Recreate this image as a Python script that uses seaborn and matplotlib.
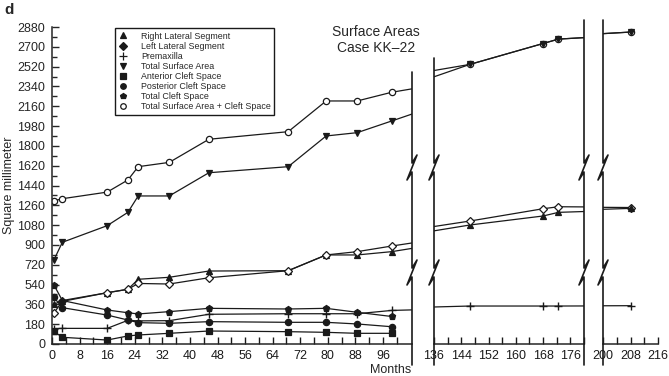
import numpy as np
import pandas as pd
import seaborn as sns
import matplotlib.pyplot as plt
from matplotlib.lines import Line2D
from matplotlib.ticker import FixedLocator, MultipleLocator

# values (months, square millimeter)
months = [0.5, 3, 16, 22, 25, 34, 45.5, 68.5, 79.5, 88.5, 98.5, 146.5, 168, 172.5, 208]
right_lat = [360, 395, 466, 497, 588, 606, 663, 666, 809, 809, 839, 1081, 1163, 1196, 1232]
left_lat = [280, 387, 466, 497, 550, 545, 602, 666, 809, 839, 890, 1117, 1229, 1247, 1240]
premax = [140, 142, 142, 215, 210, 212, 270, 275, 275, 275, 305, 345, 345, 345, 348]
total_surf = [760, 924, 1075, 1196, 1345, 1345, 1556, 1611, 1890, 1920, 2026, 2540, 2730, 2770, 2834]
ant_cleft = [115, 61, 36, 73, 82, 97, 118, 112, 106, 97, 97]
post_cleft = [425, 330, 263, 218, 194, 188, 203, 197, 197, 182, 157]
total_cleft = [540, 395, 309, 284, 273, 294, 324, 318, 324, 288, 250]
total_plus = [1300, 1320, 1380, 1490, 1611, 1650, 1860, 1929, 2208, 2208, 2287, 2540, 2730, 2770, 2834]

names = ["Right Lateral Segment", "Left Lateral Segment", "Premaxilla", "Total Surface Area",
         "Anterior Cleft Space", "Posterior Cleft Space", "Total Cleft Space",
         "Total Surface Area + Cleft Space"]
values = [right_lat, left_lat, premax, total_surf, ant_cleft, post_cleft, total_cleft, total_plus]
markers = ["^", "D", "+", "v", "s", "o", "p", "o"]
plot_fill = ["k", "w", "k", "k", "k", "k", "k", "w"]

df = pd.concat([pd.DataFrame({"series": n, "month": months[:len(v)], "value": v})
                for n, v in zip(names, values)], ignore_index=True)

sns.set_theme(style="ticks")
plt.rcParams["font.family"] = ["Liberation Sans", "DejaVu Sans"]

W, H = 669, 376
fig = plt.figure(figsize=(W / 100, H / 100), dpi=100)

def px_axes(x0, x1, yt, yb):
    return fig.add_axes([x0 / W, 1 - yb / H, (x1 - x0) / W, (yb - yt) / H])

ax1 = px_axes(52, 412, 27, 344)
ax2 = px_axes(434, 584, 27, 344)
ax3 = px_axes(603, 658, 27, 344)
axes = [ax1, ax2, ax3]

orders = [[7, 3, 0, 1, 2, 6, 5, 4], [7, 3, 0, 1, 2, 6, 5, 4], [7, 3, 1, 0, 2, 6, 5, 4]]
for ax, order in zip(axes, orders):
    for i in order:
        d = df[df["series"] == names[i]]
        sns.lineplot(data=d, x="month", y="value", ax=ax, color="k", lw=0.9,
                     marker=markers[i], markerfacecolor=plot_fill[i], markeredgecolor="k",
                     markeredgewidth=0.9 if markers[i] != "+" else 1.0,
                     markersize=4.5 if markers[i] != "+" else 6,
                     legend=False, estimator=None)
    ax.set_ylim(0, 2880)
    ax.set_xlabel("")
    ax.set_ylabel("")
    for s in ["top", "right", "left"]:
        ax.spines[s].set_visible(False)
    ax.spines["bottom"].set_linewidth(1.1)
    ax.tick_params(axis="x", which="both", direction="in", length=5, width=1,
                   labelsize=9, pad=4, colors="k")

ax1.spines["left"].set_visible(True)
ax1.spines["left"].set_linewidth(1.1)
ax1.set_xlim(0, 104.4)
ax1.xaxis.set_major_locator(FixedLocator(range(0, 97, 8)))
ax1.xaxis.set_minor_locator(FixedLocator(range(4, 101, 8)))
ax1.yaxis.set_major_locator(MultipleLocator(180))
ax1.yaxis.set_minor_locator(MultipleLocator(90))
ax1.tick_params(axis="y", which="major", direction="in", length=5, width=1, labelsize=9, pad=5)
ax1.tick_params(axis="y", which="minor", direction="in", length=3.5, width=1)
ax1.set_ylabel("Square millimeter", fontsize=9)
ax1.yaxis.set_label_coords(-0.102, 0.5)

ax2.set_xlim(136, 180)
ax2.xaxis.set_major_locator(FixedLocator(range(136, 177, 8)))
ax2.xaxis.set_minor_locator(FixedLocator(range(140, 181, 8)))
ax3.set_xlim(200, 216)
ax3.xaxis.set_major_locator(FixedLocator([200, 208, 216]))
ax3.xaxis.set_minor_locator(FixedLocator([204, 212]))
for ax in [ax2, ax3]:
    ax.set_yticks([])

# broken-axis bars with zigzags
def break_line(x, top, bottom=365, zigs=(155, 260)):
    xs, ys = [x], [top]
    for z in zigs:
        xs += [x, x + 5, x - 5, x]
        ys += [z + 8, z, z + 25, z + 17]
    xs.append(x)
    ys.append(bottom)
    fig.add_artist(Line2D(np.array(xs) / W, 1 - np.array(ys) / H, color="k",
                          lw=1.2, transform=fig.transFigure))

break_line(412, 72)
break_line(434, 58)
break_line(584, 20)
break_line(603, 20)

handles = [Line2D([], [], marker=m, color="k", linestyle="none",
                  markerfacecolor=("w" if n.startswith("Total Surface Area +") else "k"),
                  markeredgecolor="k", markersize=4 if m != "+" else 5.5, markeredgewidth=0.9)
           for n, m in zip(names, markers)]
leg = fig.legend(handles, names, loc="upper left", bbox_to_anchor=(115 / W, 1 - 28 / H),
                 frameon=True, fancybox=False, edgecolor="k", framealpha=1, fontsize=6.4,
                 handlelength=1, handletextpad=1.5, labelspacing=0.12, borderpad=0.4,
                 borderaxespad=0)
leg.get_frame().set_linewidth(1)

fig.text(376 / W, 1 - 40 / H, "Surface Areas\nCase KK\u201322", ha="center", va="center",
         fontsize=10, linespacing=1.15)
fig.text(391 / W, 1 - 370 / H, "Months", ha="center", va="center", fontsize=9)
fig.text(4 / W, 1 - 3 / H, "d", ha="left", va="top", fontsize=11, fontweight="bold")

fig.savefig("out.png", dpi=100)
